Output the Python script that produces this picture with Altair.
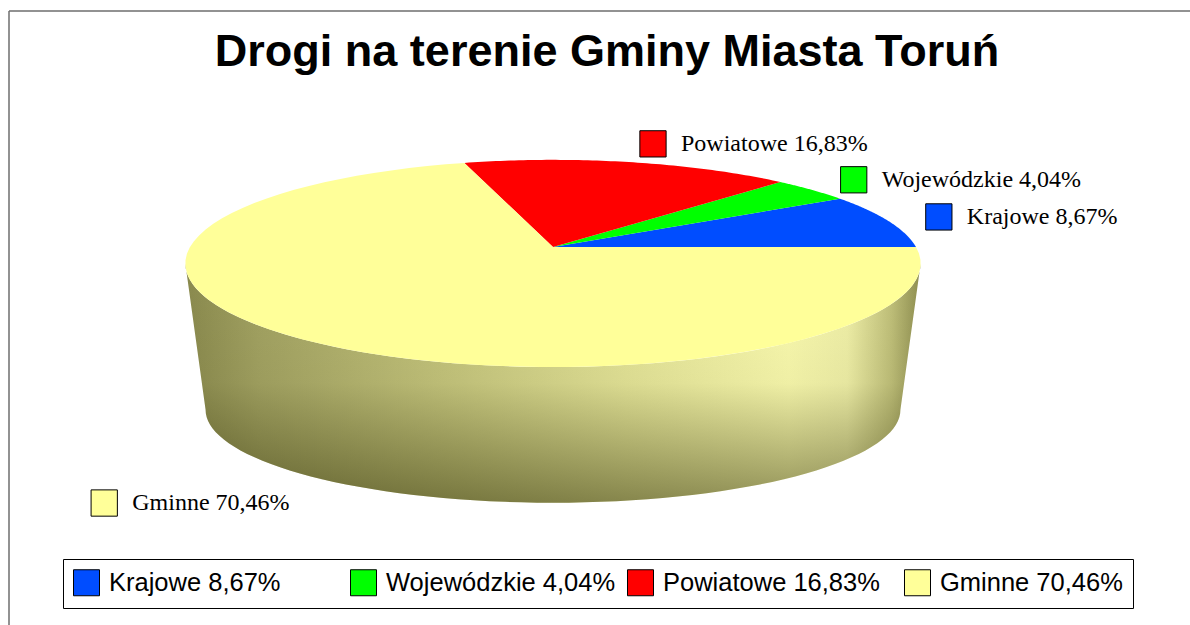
import altair as alt
import pandas as pd

# ---- data ----
categories = ["Krajowe", "Wojewódzkie", "Powiatowe", "Gminne"]
shares = [8.67, 4.04, 16.83, 70.46]
colors = ["#004DFF", "#00FF00", "#FF0000", "#FFFF99"]
title_text = ["Drogi na terenie Gminy Miasta Toruń"]

labels = [f"{c} {v:.2f}%".replace(".", ",") for c, v in zip(categories, shares)]
df = pd.DataFrame({"cat": categories, "share": shares,
                   "order": list(range(len(categories))), "label": labels})

# ---- layout / style constants (pseudo-3D projection) ----
CX, CY, R, H = 553, 247, 363, 101        # top face
CYB, RB, HB = 395, 343, 90.6             # bottom rim
KP = 0.159                               # perspective factor
N = 72
LF, LFX2, LFY2 = 1.15, 1.8, 1.3          # label radial factors

xs = alt.Scale(domain=[0, 1190], nice=False, zero=False)
ys = alt.Scale(domain=[0, 625], nice=False, zero=False, reverse=True)
cscale = alt.Scale(domain=labels, range=colors)

leg = alt.Legend(title=None, orient="none", legendX=63, legendY=559,
                 direction="horizontal", columns=4, gridAlign="all",
                 columnPadding=9, symbolType="square", symbolSize=676,
                 symbolStrokeColor="black", symbolStrokeWidth=1, symbolOpacity=1,
                 labelFont="Liberation Sans", labelFontSize=25.5, labelColor="black",
                 labelOffset=9, labelLimit=500, strokeColor="black",
                 fillColor="white", padding=10)

base = (alt.Chart(df)
        .transform_window(cum="sum(share)", sort=[alt.SortField("order", order="ascending")])
        .transform_joinaggregate(total="sum(share)")
        .transform_calculate(a0="2*PI*(datum.cum-datum.share)/datum.total")
        .transform_calculate(a1="2*PI*datum.cum/datum.total"))

# top face slices
top = (base
       .transform_calculate(steps=f"sequence(0, {N + 2})")
       .transform_flatten(["steps"])
       .transform_calculate(ang=f"datum.steps == 0 ? 0 : datum.a0 + (datum.a1 - datum.a0) * (datum.steps - 1) / {N}")
       .transform_calculate(rr="datum.steps == 0 ? 0 : 1")
       .transform_calculate(u="datum.rr*cos(datum.ang)")
       .transform_calculate(v="datum.rr*sin(datum.ang)")
       .transform_calculate(s=f"1/(1+{KP}*datum.v)")
       .transform_calculate(px=f"{CX}+{R}*datum.u*datum.s")
       .transform_calculate(py=f"{CY}-{H}*datum.v*datum.s")
       .mark_line(strokeOpacity=0)
       .encode(x=alt.X("px:Q", scale=xs, axis=None),
               y=alt.Y("py:Q", scale=ys, axis=None),
               order=alt.Order("steps:Q"),
               detail="cat:N",
               fill=alt.Fill("label:N", scale=cscale, legend=None)))

# side wall (front half only)
side_base = (base
             .transform_calculate(s0="max(datum.a0, PI+0.1597)")
             .transform_calculate(s1="min(datum.a1, 2*PI-0.1597)")
             .transform_filter("datum.s1 > datum.s0")
             .transform_calculate(steps=f"sequence(0, {2 * N + 2})")
             .transform_flatten(["steps"])
             .transform_calculate(ang=f"datum.steps <= {N} ? datum.s0 + (datum.s1-datum.s0)*datum.steps/{N} : datum.s1 - (datum.s1-datum.s0)*(datum.steps-{N}-1)/{N}")
             .transform_calculate(u="cos(datum.ang)")
             .transform_calculate(v="sin(datum.ang)")
             .transform_calculate(s=f"1/(1+{KP}*datum.v)")
             .transform_calculate(px=f"{CX} + (datum.steps <= {N} ? {R} : {RB})*datum.u*datum.s")
             .transform_calculate(py=f"datum.steps <= {N} ? {CY}-{H}*datum.v*datum.s : {CYB}-{HB}*datum.v*datum.s"))

grad_h = alt.LinearGradient(gradient="linear", x1=0, y1=0, x2=1, y2=0, stops=[
    alt.GradientStop(color="#8a8a4e", offset=0.0),
    alt.GradientStop(color="#a2a262", offset=0.10),
    alt.GradientStop(color="#c4c47c", offset=0.35),
    alt.GradientStop(color="#e4e498", offset=0.60),
    alt.GradientStop(color="#fafaae", offset=0.82),
    alt.GradientStop(color="#f0f0a8", offset=0.90),
    alt.GradientStop(color="#c0c07a", offset=0.96),
    alt.GradientStop(color="#8e8e50", offset=1.0)])
grad_v = alt.LinearGradient(gradient="linear", x1=0, y1=0, x2=0, y2=1, stops=[
    alt.GradientStop(color="rgba(40,40,0,0)", offset=0.0),
    alt.GradientStop(color="rgba(40,40,0,0.05)", offset=0.5),
    alt.GradientStop(color="rgba(40,40,0,0.5)", offset=1.0)])

side_enc = dict(x=alt.X("px:Q", scale=xs, axis=None),
                y=alt.Y("py:Q", scale=ys, axis=None),
                order=alt.Order("steps:Q"), detail="cat:N")
side = side_base.mark_line(fill=grad_h, strokeWidth=0).encode(**side_enc)
side_shade = side_base.mark_line(fill=grad_v, strokeWidth=0).encode(**side_enc)

# external labels
lab = (base
       .transform_calculate(mid="(datum.a0+datum.a1)/2")
       .transform_calculate(u="cos(datum.mid)")
       .transform_calculate(v="sin(datum.mid)")
       .transform_calculate(s=f"1/(1+{KP}*datum.v)")
       .transform_calculate(lx=f"datum.v >= 0 ? {CX}+{R}*{LF}*datum.u*datum.s + 14*datum.v*datum.v*datum.v : {CX}+{R}*{LFX2}*datum.u*datum.s")
       .transform_calculate(ly=f"datum.v >= 0 ? {CY}-{H}*{LF}*datum.v*datum.s - 6*datum.v*datum.v*datum.v : {CYB}-{HB}*{LFY2}*datum.v*datum.s"))
squares = lab.mark_square(size=690, stroke="black", strokeWidth=1, opacity=1).encode(
    x=alt.X("lx:Q", scale=xs, axis=None), y=alt.Y("ly:Q", scale=ys, axis=None),
    fill=alt.Fill("label:N", scale=cscale, legend=leg))
texts = lab.mark_text(align="left", baseline="middle", dx=28, font="Liberation Serif",
                      fontSize=24, color="black").encode(
    x=alt.X("lx:Q", scale=xs, axis=None), y=alt.Y("ly:Q", scale=ys, axis=None),
    text="label:N")

# title
title = alt.Chart(pd.DataFrame({"t": title_text})).mark_text(
    font="Liberation Sans", fontSize=45, fontWeight="bold", align="center",
    baseline="alphabetic", color="black").encode(
    x=alt.value(607), y=alt.value(66), text="t:N")

# frame lines
frame_df = pd.DataFrame({"d": [0]})
border_top = alt.Chart(frame_df).mark_rule(color="#6e6e6e", strokeWidth=1.5).encode(
    x=alt.value(9), x2=alt.value(1190), y=alt.value(11))
border_left = alt.Chart(frame_df).mark_rule(color="#6e6e6e", strokeWidth=1.5).encode(
    x=alt.value(9), y=alt.value(11), y2=alt.value(625))

chart = (alt.layer(border_top, border_left, side, side_shade, top, squares, texts, title)
         .resolve_scale(fill="independent")
         .resolve_legend(fill="independent")
         .properties(width=1190, height=625, padding=0, background="white",
                     autosize=alt.AutoSizeParams(type="none"))
         .configure_view(stroke="transparent"))

chart.save("out.html", embed_options={"renderer": "svg", "actions": False})
